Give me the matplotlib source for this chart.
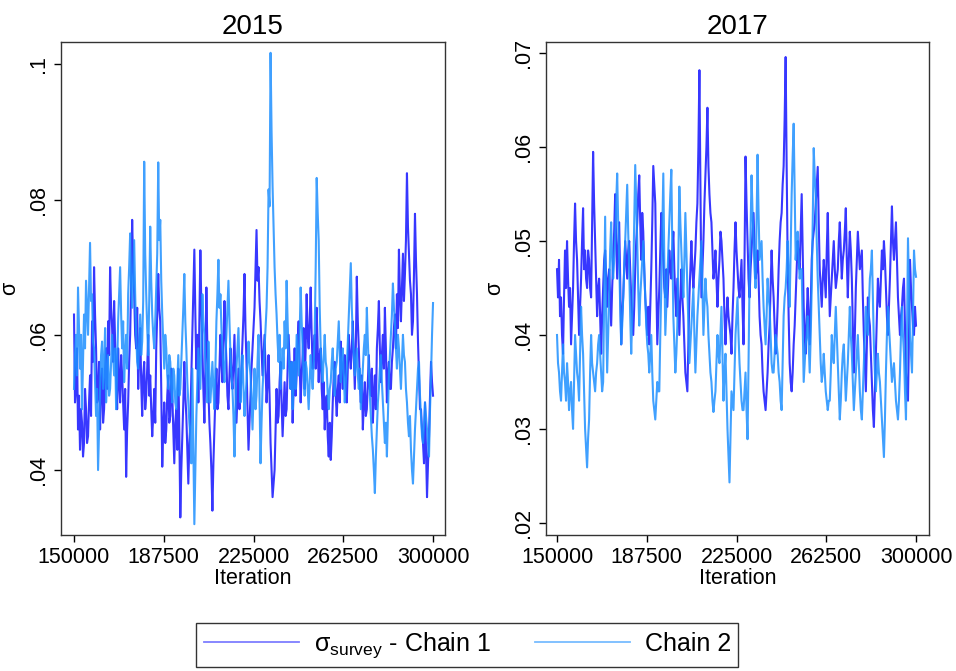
import numpy as np
import matplotlib
matplotlib.use("Agg")
import matplotlib.pyplot as plt

plt.rcParams['font.family'] = ['Liberation Sans', 'DejaVu Sans']
plt.rcParams['mathtext.fontset'] = 'custom'
plt.rcParams['mathtext.rm'] = 'Liberation Sans'

titles = ["2015", "2017"]
iter_start, iter_end = 150000, 300000
xticks = [150000, 187500, 225000, 262500, 300000]

chain1_2015 = [
    .063,.050, .052,.058, .046,.051, .043,.049, .047,.042, .044,.052, .049,.044, .045,.050, .054,.048, .062,.056, .070,.063, .058,.050, .051,.056, .046,.053, .055,.047, .049,.055, .058,.052, .062,.057, .070,.064, .061,.056,
    .065,.059, .055,.049, .058,.053, .050,.057, .054,.050, .046,.052, .039,.046, .050,.056, .060,.068, .077,.070, .066,.060, .058,.064, .052,.057, .061,.053, .048,.054, .056,.049, .051,.055, .060,.051, .054,.049, .045,.048,
    .052,.047, .058,.063, .069,.064, .062,.052, .0405,.046, .050,.044, .046,.051, .054,.047, .048,.055, .051,.046, .041,.047, .049,.043, .055,.046, .033,.040, .045,.050, .056,.051, .048,.043, .038,.044, .047,.054, .060,.066,
    .0726,.063, .055,.060, .050,.062, .0725,.064, .058,.052, .047,.055, .067,.058, .052,.047, .044,.040, .034,.041, .046,.051, .055,.049, .050,.055, .060,.056, .053,.059, .065,.060, .056,.051, .049,.054, .058,.054, .052,.056,
    .060,.053, .047,.051, .055,.049, .051,.055, .059,.063, .069,.061, .056,.049, .043,.047, .051,.055, .058,.061, .064,.070, .0755,.068, .070,.065, .062,.058, .054,.057, .060,.055, .050,.053, .057,.051, .044,.040, .036,.038,
    .040,.046, .052,.047, .048,.053, .056,.050, .045,.049, .053,.048, .049,.055, .060,.056, .052,.056, .047,.052, .058,.051, .054,.059, .062,.056, .050,.054, .057,.061, .052,.058, .066,.060, .058,.062, .067,.060, .055,.058,
    .060,.055, .064,.058, .053,.057, .058,.052, .049,.053, .046,.050, .051,.045, .042,.047, .0415,.045, .050,.054, .056,.051, .048,.052, .054,.050, .059,.055, .052,.056, .057,.053, .050,.055, .060,.057, .055,.058, .062,.057,
    .052,.058, .0686,.062, .058,.053, .050,.054, .046,.050, .053,.048, .049,.053, .057,.052, .051,.055, .047,.051, .054,.049, .058,.061, .065,.058, .053,.057, .060,.055, .064,.058, .050,.054, .056,.052, .052,.056, .058,.061,
    .063,.058, .066,.061, .0726,.066, .062,.067, .072,.065, .069,.074, .0839,.076, .072,.068, .066,.060, .062,.069, .0779,.071, .066,.059, .054,.049, .049,.046, .044,.041, .050,.043, .036,.041, .045,.051, .056,.053, .051,
]
chain2_2015 = [
    .052,.057, .060,.054, .067,.061, .055,.060, .049,.056, .063,.058, .068,.064, .060,.067, .0736,.065, .066,.059, .058,.053, .048,.052, .040,.046, .052,.057, .059,.052, .055,.061, .050,.054, .057,.051, .052,.056, .060,.057,
    .054,.058, .049,.055, .062,.066, .070,.063, .058,.062, .053,.057, .060,.055, .066,.070, .075,.067, .064,.069, .074,.066, .060,.056, .055,.059, .063,.057, .059,.065, .0856,.072, .066,.061, .057,.065, .076,.068, .063,.060,
    .058,.062, .067,.072, .0855,.074, .077,.068, .063,.059, .055,.060, .058,.054, .052,.057, .056,.052, .050,.055, .054,.050, .049,.053, .057,.051, .052,.056, .060,.064, .069,.062, .058,.053, .050,.047, .045,.041, .055,.043,
    .032,.040, .048,.053, .058,.055, .052,.059, .066,.062, .060,.056, .054,.050, .059,.054, .050,.053, .056,.052, .049,.055, .062,.066, .0711,.064, .066,.061, .058,.055, .053,.057, .060,.064, .068,.062, .057,.054, .052,.048,
    .042,.049, .055,.058, .061,.055, .050,.054, .057,.052, .048,.051, .053,.056, .059,.056, .054,.050, .046,.051, .055,.049, .051,.056, .060,.050, .041,.047, .052,.055, .058,.061, .064,.070, .0815,.079, .1017,.090, .082,.076,
    .070,.066, .063,.059, .056,.060, .052,.055, .058,.055, .062,.058, .068,.062, .057,.054, .052,.056, .049,.053, .056,.052, .060,.057, .054,.060, .067,.062, .058,.054, .051,.056, .055,.052, .049,.053, .057,.054, .052,.056,
    .060,.070, .0832,.078, .074,.064, .058,.055, .053,.057, .060,.056, .055,.051, .049,.052, .053,.056, .058,.054, .051,.055, .056,.059, .062,.057, .053,.056, .058,.054, .050,.053, .055,.059, .063,.067, .0706,.064, .060,.057,
    .054,.056, .058,.054, .052,.055, .049,.052, .055,.058, .060,.057, .064,.059, .055,.051, .048,.045, .043,.040, .0366,.042, .046,.050, .052,.055, .057,.053, .050,.047, .044,.047, .042,.048, .054,.057, .060,.063, .0676,.064,
    .062,.058, .055,.060, .058,.055, .052,.056, .060,.057, .056,.052, .050,.047, .045,.048, .043,.040, .038,.042, .046,.049, .052,.055, .056,.051, .048,.045, .044,.047, .050,.048, .046,.044, .042,.049, .054,.060, .0647,
]
chain1_2017 = [
    .047,.044, .048,.042, .044,.040, .038,.044, .049,.045, .050,.046, .043,.045, .039,.042, .045,.050, .054,.050, .048,.044, .040,.043, .046,.050, .0535,.047, .049,.046, .045,.049, .048,.045, .044,.052, .0595,.054, .050,.046,
    .042,.045, .046,.042, .038,.042, .045,.048, .049,.046, .043,.046, .047,.044, .041,.045, .048,.051, .055,.050, .046,.049, .052,.046, .039,.042, .044,.047, .050,.048, .046,.049, .050,.047, .044,.042, .040,.043, .047,.050,
    .052,.055, .057,.052, .048,.053, .051,.047, .044,.042, .040,.043, .039,.043, .047,.052, .058,.056, .054,.046, .039,.042, .045,.049, .053,.050, .048,.045, .044,.047, .043,.046, .049,.047, .046,.049, .051,.047, .044,.042,
    .046,.043, .040,.044, .047,.044, .042,.039, .036,.035, .034,.039, .044,.047, .050,.047, .045,.047, .049,.052, .054,.060, .0682,.056, .044,.047, .050,.054, .057,.060, .0642,.058, .055,.053, .052,.049, .046,.047, .049,.046,
    .043,.046, .048,.051, .050,.048, .046,.042, .039,.042, .044,.042, .041,.040, .038,.042, .045,.049, .052,.049, .047,.045, .044,.046, .048,.043, .039,.048, .0590,.054, .050,.046, .044,.047, .049,.051, .053,.049, .046,.047,
    .049,.046, .042,.040, .039,.036, .034,.033, .032,.034, .036,.039, .041,.045, .049,.046, .044,.041, .038,.040, .043,.047, .050,.052, .053,.056, .058,.063, .0696,.058, .048,.042, .037,.035, .034,.036, .039,.041, .044,.047,
    .050,.048, .047,.051, .055,.049, .043,.040, .038,.042, .045,.042, .039,.043, .048,.050, .051,.052, .054,.056, .0579,.052, .047,.045, .043,.046, .048,.046, .044,.049, .053,.047, .042,.044, .046,.048, .050,.047, .045,.046,
    .047,.050, .052,.049, .046,.048, .049,.051, .0535,.048, .044,.048, .051,.049, .046,.041, .036,.040, .045,.048, .051,.049, .047,.048, .049,.044, .040,.037, .034,.039, .044,.042, .041,.038, .035,.032, .0302,.034, .038,.042,
    .046,.044, .043,.046, .049,.047, .050,.048, .045,.042, .040,.043, .046,.050, .0537,.050, .048,.050, .052,.048, .044,.042, .040,.042, .043,.045, .046,.041, .036,.034, .033,.040, .048,.045, .043,.041, .040,.043, .041,
]
chain2_2017 = [
    .040,.037, .036,.034, .033,.036, .039,.036, .035,.033, .037,.035, .032,.034, .035,.032, .030,.035, .040,.038, .036,.035, .033,.038, .043,.040, .038,.034, .030,.028, .0259,.029, .031,.036, .040,.037, .036,.035, .034,.036,
    .037,.039, .040,.038, .036,.034, .035,.044, .0526,.042, .036,.040, .044,.049, .052,.048, .046,.048, .050,.054, .0572,.052, .048,.043, .039,.041, .044,.047, .050,.053, .056,.051, .047,.042, .038,.042, .046,.052, .0581,.054,
    .050,.045, .041,.044, .046,.048, .050,.047, .044,.041, .039,.038, .036,.038, .040,.036, .033,.032, .031,.033, .035,.034, .034,.040, .045,.051, .0572,.048, .040,.043, .046,.049, .052,.055, .0576,.049, .042,.039, .036,.038,
    .041,.048, .0558,.052, .049,.046, .044,.048, .053,.049, .045,.041, .037,.039, .041,.043, .045,.040, .036,.039, .042,.044, .046,.048, .050,.045, .040,.043, .046,.044, .043,.040, .038,.036, .035,.033, .0318,.033, .034,.037,
    .040,.038, .037,.040, .043,.038, .033,.036, .038,.034, .030,.027, .0243,.029, .034,.033, .032,.036, .040,.042, .044,.040, .037,.035, .033,.032, .032,.034, .036,.032, .0289,.037, .046,.051, .057,.053, .050,.047, .045,.052,
    .0592,.053, .048,.049, .050,.046, .043,.041, .039,.042, .046,.044, .043,.040, .037,.036, .036,.038, .040,.039, .038,.036, .035,.033, .032,.037, .042,.044, .045,.047, .050,.046, .043,.049, .055,.059, .0625,.055, .048,.050,
    .051,.048, .046,.047, .047,.041, .035,.037, .039,.040, .042,.039, .036,.040, .045,.052, .0599,.057, .055,.050, .046,.043, .040,.037, .035,.036, .038,.036, .034,.033, .032,.033, .033,.036, .040,.038, .037,.040, .043,.040,
    .037,.034, .031,.033, .036,.038, .039,.036, .033,.035, .037,.040, .043,.040, .038,.035, .032,.034, .036,.038, .040,.037, .034,.032, .031,.034, .037,.040, .043,.041, .040,.043, .046,.047, .049,.044, .039,.036, .034,.036,
    .038,.036, .035,.033, .031,.029, .0270,.031, .036,.040, .043,.041, .039,.037, .035,.036, .037,.035, .033,.032, .031,.033, .036,.040, .043,.040, .038,.034, .031,.040, .0503,.045, .040,.038, .036,.042, .049,.047, .0462,
]

panels = [
    dict(c1=chain1_2015, c2=chain2_2015, yticks=[.04, .06, .08, .1],
         ylabels=[".04", ".06", ".08", ".1"], ylim=(0.0304, 0.1033), xlim=(144570, 305000),
         rect=[61/956, 1-535/671, 384/956, 493/671]),
    dict(c1=chain1_2017, c2=chain2_2017, yticks=[.02, .03, .04, .05, .06, .07],
         ylabels=[".02", ".03", ".04", ".05", ".06", ".07"], ylim=(0.0187, 0.0712), xlim=(145400, 305430),
         rect=[546/956, 1-535/671, 383/956, 493/671]),
]

dark = '#1414ff'
light = '#1e90ff'

fig = plt.figure(figsize=(9.56, 6.71), dpi=100)
handles = None
for title, p in zip(titles, panels):
    ax = fig.add_axes(p['rect'])
    x1 = np.linspace(iter_start, iter_end, len(p['c1']))
    x2 = np.linspace(iter_start, iter_end, len(p['c2']))
    h1, = ax.plot(x1, p['c1'], color=dark, alpha=0.85, lw=1.5)
    h2, = ax.plot(x2, p['c2'], color=light, alpha=0.85, lw=1.5)
    handles = (h1, h2)
    ax.set_xlim(*p['xlim'])
    ax.set_ylim(*p['ylim'])
    ax.set_xticks(xticks)
    ax.set_xticklabels([str(t) for t in xticks], fontsize=15.5)
    ax.set_yticks(p['yticks'])
    ax.set_yticklabels(p['ylabels'], fontsize=15.5, rotation=90, va='center')
    ax.tick_params(direction='out', length=5, width=1, colors='black')
    ax.set_title(title, fontsize=20, pad=6)
    ax.set_xlabel("Iteration", fontsize=15.5, labelpad=0)
    ax.set_ylabel("σ", fontsize=15.5, labelpad=6)
    for s in ax.spines.values():
        s.set_color('#333333')
        s.set_linewidth(1)

leg = fig.legend(handles, [r'$\mathregular{\sigma_{survey}}$ - Chain 1', 'Chain 2'],
                 loc='center', bbox_to_anchor=(0.489, 0.0388), ncol=2, fontsize=18,
                 frameon=True, fancybox=False, edgecolor='black', handlelength=3.8,
                 handletextpad=0.6, columnspacing=1.75, borderpad=0.3)
leg.get_frame().set_linewidth(1)
for ln, a in zip(leg.get_lines(), (0.55, 0.6)):
    ln.set_linewidth(1.3)
    ln.set_alpha(a)

fig.savefig("out.png", dpi=100)
